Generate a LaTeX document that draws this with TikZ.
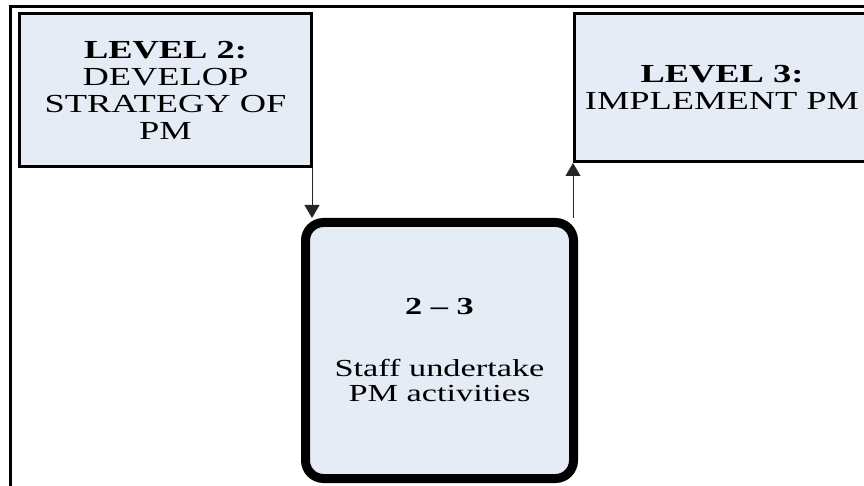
\documentclass[tikz,border=0pt]{standalone}
\usepackage{fontspec}
\setmainfont{Liberation Serif}
\newfontfamily\wideserif[FakeStretch=1.4]{Liberation Serif}
\usetikzlibrary{arrows.meta}
\definecolor{boxfill}{RGB}{230,236,246}
\tikzset{
  levelbox/.style={draw=black, line width=3pt, fill=boxfill, inner sep=0pt,
    align=center, font=\wideserif\fontsize{26}{27}\selectfont},
  actbox/.style={draw=black, line width=9pt, fill=boxfill, rounded corners=18pt,
    inner sep=0pt, align=center, font=\wideserif\fontsize{24.5}{25}\selectfont},
  flow/.style={draw=black!85, line width=0.9pt, -{Triangle[length=13pt,width=15pt]}},
  frameline/.style={draw=black, line width=3pt}
}
\begin{document}
\begin{tikzpicture}[x=1pt,y=-1pt]
\useasboundingbox (0,0) rectangle (864,486);
\clip (0,0) rectangle (864,486);
\fill[white] (0,0) rectangle (864,486);
% frame
\coordinate (ftl) at (10,6.5);
\coordinate (ftr) at (870,6.5);
\coordinate (fbl) at (10,490);
\draw[frameline] (ftr) -- (ftl) -- (fbl);
% boxes
\node[levelbox, minimum width=292pt, minimum height=153pt] (l) at (165.5,90)
  {\textbf{LEVEL 2:}\\DEVELOP\\STRATEGY OF\\PM};
\node[levelbox, minimum width=295pt, minimum height=148pt] (r) at (722,87.5)
  {\textbf{LEVEL 3:}\\IMPLEMENT PM};
\node[actbox, minimum width=268pt, minimum height=256pt] (m) at (439.5,350.5)
  {\textbf{2 – 3}\\[37pt]Staff undertake\\PM activities};
% connectors
\draw[flow] ([xshift=-1pt]l.south east) -- ([xshift=-1pt]l.south east |- m.north);
\draw[flow] (r.south west |- m.north) -- (r.south west);
\end{tikzpicture}
\end{document}
